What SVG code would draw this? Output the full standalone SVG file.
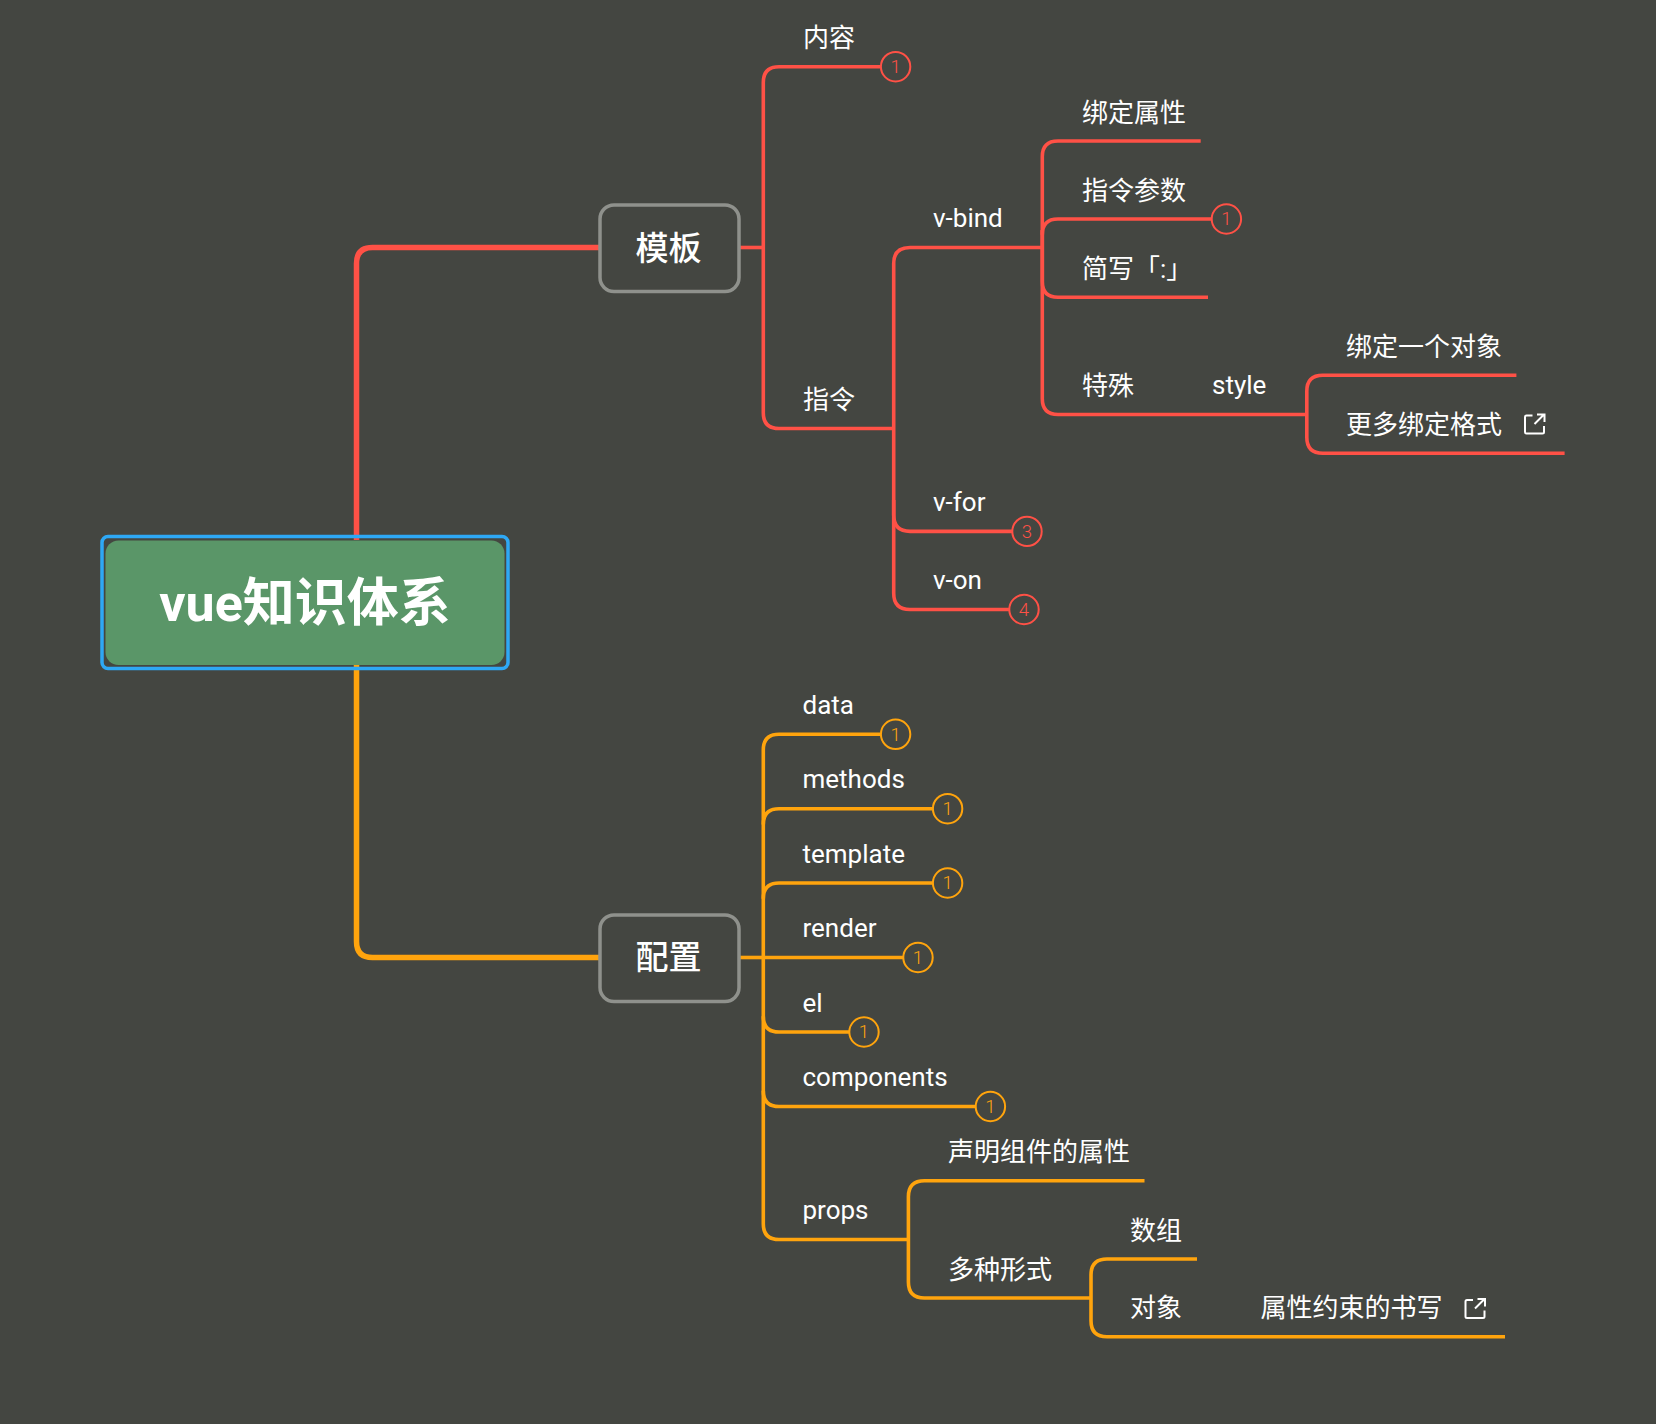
<svg xmlns="http://www.w3.org/2000/svg" width="1656" height="1424" viewBox="0 0 1656 1424">
<style>
text{font-family:Roboto,"Noto Sans CJK SC",sans-serif;fill:#fff}
.t{font-size:26px}
.n{font-size:33px;font-weight:500;text-anchor:middle}
.r{font-size:52px;font-weight:700;text-anchor:middle}
.b{fill:#444641;stroke-width:2}
.c{font-size:18.500px;font-weight:300;text-anchor:middle}
.rd{stroke:#ff5146}.or{stroke:#ffa40d}
.crd{fill:#ff5146}.cor{fill:#ffa40d}
#connectors path{fill:none;stroke-linejoin:round}
.th{stroke-width:5.500}.tn{stroke-width:3.600}
.box{fill:#444641;stroke:#8f918c;stroke-width:3.500}
</style>
<defs>
<g id="ext"><path d="M8.500 2H2.500A1.500 1.500 0 0 0 1 3.500V18.500A1.500 1.500 0 0 0 2.500 20H18.500A1.500 1.500 0 0 0 20 18.500V12.500M10.500 10.500L20 1M13 1H20.500V8.500" fill="none" stroke="#fff" stroke-width="2"/></g>
</defs>
<rect width="1656" height="1424" fill="#444641"/>
<g id="connectors">
<path class="rd th" d="M356.500 540V263.500Q356.500 247.500 372.500 247.500H599"/>
<path class="or th" d="M356.500 665V941.500Q356.500 957.500 372.500 957.500H599"/>
<path class="rd tn" d="M740 247.500H763"/>
<path class="rd tn" d="M880 66.700H779Q763.300 66.700 763.300 82.400V412.800Q763.300 428.500 779 428.500H893.700"/>
<path class="rd tn" d="M1012 531.400H910Q893.700 531.400 893.700 515.100V263.500Q893.700 247.500 910 247.500H1042.300"/>
<path class="rd tn" d="M1009 609.500H910Q893.700 609.500 893.700 593.200V500"/>
<path class="rd tn" d="M1200.700 141H1058Q1042.300 141 1042.300 156.700V398.800Q1042.300 414.500 1058 414.500H1306.800"/>
<path class="rd tn" d="M1211 219H1058Q1042.300 219 1042.300 234.700"/>
<path class="rd tn" d="M1208 297.300H1058Q1042.300 297.300 1042.300 281.600V230"/>
<path class="rd tn" d="M1516.400 375.300H1322.800Q1306.800 375.300 1306.800 391.300V437.300Q1306.800 453.300 1322.800 453.300H1564.600"/>
<path class="or tn" d="M740 957.500H763"/>
<path class="or tn" d="M880 734.300H779Q763.300 734.300 763.300 750V1223.800Q763.300 1239.500 779 1239.500H908.400"/>
<path class="or tn" d="M932 808.700H779Q763.300 808.700 763.300 824.400"/>
<path class="or tn" d="M932 883H779Q763.300 883 763.300 898.700"/>
<path class="or tn" d="M903 957.500H763.300"/>
<path class="or tn" d="M849 1032H779Q763.300 1032 763.300 1016.300"/>
<path class="or tn" d="M975 1106.500H779Q763.300 1106.500 763.300 1090.800"/>
<path class="or tn" d="M1144.500 1180.700H924.400Q908.400 1180.700 908.400 1196.700V1282Q908.400 1298 924.400 1298H1091"/>
<path class="or tn" d="M1197 1259H1107Q1091 1259 1091 1275V1320.700Q1091 1336.700 1107 1336.700H1505"/>
</g>
<g id="root">
<rect x="105.500" y="540.500" width="399" height="124.500" rx="13" fill="#5a9668"/>
<rect x="102" y="536.500" width="406" height="132" rx="6" fill="none" stroke="#2ea8f5" stroke-width="3.500"/>
<text class="r" x="305" y="621">vue知识体系</text>
</g>
<g id="node-muban"><rect class="box" x="600" y="205" width="139" height="86.500" rx="14"/><text class="n" x="668.500" y="259.500">模板</text></g>
<g id="node-peizhi"><rect class="box" x="600" y="915" width="139" height="86.500" rx="14"/><text class="n" x="668.500" y="969">配置</text></g>
<g id="node-neirong"><text class="t" x="803" y="47">内容</text><circle class="b rd" cx="895.600" cy="66.700" r="14.700"/><text class="c crd" x="895.600" y="73">1</text></g>
<g id="node-zhiling"><text class="t" x="803" y="409">指令</text></g>
<g id="node-vbind"><text class="t" x="933" y="226.500">v-bind</text></g>
<g id="node-bdsx"><text class="t" x="1082" y="122">绑定属性</text></g>
<g id="node-zlcs"><text class="t" x="1082" y="199.500">指令参数</text><circle class="b rd" cx="1226.400" cy="219" r="14.700"/><text class="c crd" x="1226.400" y="225.300">1</text></g>
<g id="node-jx"><text class="t" x="1082" y="278">简写「:」</text></g>
<g id="node-ts"><text class="t" x="1082" y="394.500">特殊</text></g>
<g id="node-style"><text class="t" x="1212" y="393.500">style</text></g>
<g id="node-bdydx"><text class="t" x="1346" y="355.500">绑定一个对象</text></g>
<g id="node-gdbd"><text class="t" x="1346" y="434">更多绑定格式</text><use href="#ext" x="1524" y="413.500"/></g>
<g id="node-vfor"><text class="t" x="933" y="511">v-for</text><circle class="b rd" cx="1027" cy="531.400" r="14.700"/><text class="c crd" x="1027" y="537.700">3</text></g>
<g id="node-von"><text class="t" x="933" y="589">v-on</text><circle class="b rd" cx="1024" cy="609.500" r="14.700"/><text class="c crd" x="1024" y="615.800">4</text></g>
<g id="node-data"><text class="t" x="802.500" y="713.500">data</text><circle class="b or" cx="895.600" cy="734.300" r="14.700"/><text class="c cor" x="895.600" y="740.600">1</text></g>
<g id="node-methods"><text class="t" x="802.500" y="788">methods</text><circle class="b or" cx="947.600" cy="808.700" r="14.700"/><text class="c cor" x="947.600" y="815">1</text></g>
<g id="node-template"><text class="t" x="802.500" y="863">template</text><circle class="b or" cx="947.600" cy="883" r="14.700"/><text class="c cor" x="947.600" y="889.300">1</text></g>
<g id="node-render"><text class="t" x="802.500" y="937">render</text><circle class="b or" cx="918" cy="957.500" r="14.700"/><text class="c cor" x="918" y="963.800">1</text></g>
<g id="node-el"><text class="t" x="802.500" y="1012">el</text><circle class="b or" cx="864" cy="1032" r="14.700"/><text class="c cor" x="864" y="1038.300">1</text></g>
<g id="node-components"><text class="t" x="802.500" y="1086">components</text><circle class="b or" cx="990.400" cy="1106.500" r="14.700"/><text class="c cor" x="990.400" y="1112.800">1</text></g>
<g id="node-props"><text class="t" x="802.500" y="1219">props</text></g>
<g id="node-smzj"><text class="t" x="948" y="1161">声明组件的属性</text></g>
<g id="node-dzxs"><text class="t" x="948" y="1278.500">多种形式</text></g>
<g id="node-sz"><text class="t" x="1130" y="1239.500">数组</text></g>
<g id="node-dx"><text class="t" x="1130" y="1317">对象</text></g>
<g id="node-sxys"><text class="t" x="1260.500" y="1317">属性约束的书写</text><use href="#ext" x="1464.500" y="1298"/></g>
</svg>
